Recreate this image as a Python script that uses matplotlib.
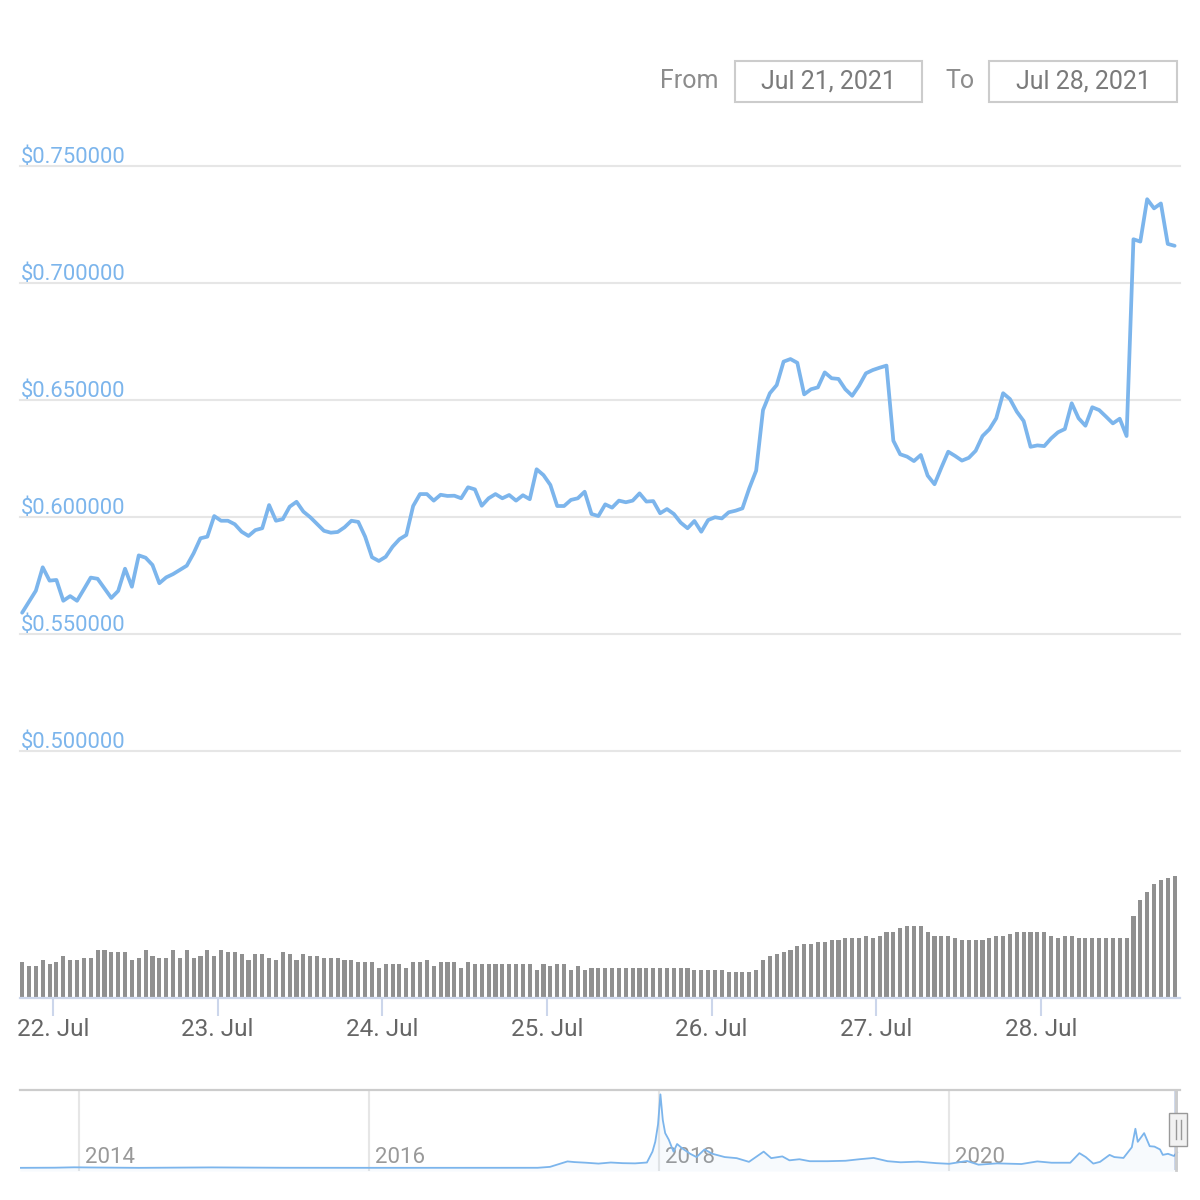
import matplotlib
matplotlib.use("Agg")
import matplotlib.pyplot as plt
import matplotlib.dates as mdates
from matplotlib.patches import Rectangle
from matplotlib.lines import Line2D
import numpy as np
import pandas as pd

#%% data (hourly, from Jul 21 2021 19:30)

price = [
    0.5591, 0.5638, 0.5685, 0.5785, 0.5728, 0.5731, 0.5642, 0.5662, 0.5642, 0.5691,
    0.5741, 0.5736, 0.5695, 0.5654, 0.5684, 0.5779, 0.5702, 0.5836, 0.5826, 0.5795,
    0.5717, 0.5742, 0.5756, 0.5774, 0.5792, 0.5845, 0.5909, 0.5916, 0.6004, 0.5984,
    0.5984, 0.5969, 0.5937, 0.5919, 0.5944, 0.5952, 0.6051, 0.5984, 0.5991, 0.6044,
    0.6065, 0.6023, 0.5999, 0.5970, 0.5941, 0.5933, 0.5936, 0.5956, 0.5984, 0.5979,
    0.5916, 0.5828, 0.5812, 0.5830, 0.5873, 0.5905, 0.5923, 0.6047, 0.6098, 0.6098,
    0.6070, 0.6095, 0.6090, 0.6091, 0.6080, 0.6127, 0.6118, 0.6048, 0.6080, 0.6098,
    0.6080, 0.6094, 0.6070, 0.6093, 0.6076, 0.6204, 0.6179, 0.6137, 0.6047, 0.6047,
    0.6073, 0.6080, 0.6108, 0.6013, 0.6004, 0.6054, 0.6040, 0.6070, 0.6063, 0.6070,
    0.6101, 0.6066, 0.6068, 0.6016, 0.6034, 0.6013, 0.5976, 0.5952, 0.5983, 0.5937,
    0.5987, 0.5999, 0.5994, 0.6020, 0.6027, 0.6037, 0.6123, 0.6198, 0.6457, 0.6529,
    0.6564, 0.6664, 0.6675, 0.6659, 0.6524, 0.6546, 0.6554, 0.6618, 0.6593, 0.6590,
    0.6546, 0.6518, 0.6561, 0.6614, 0.6628, 0.6638, 0.6647, 0.6326, 0.6268, 0.6258,
    0.6239, 0.6265, 0.6177, 0.6140, 0.6211, 0.6279, 0.6261, 0.6241, 0.6253, 0.6283,
    0.6346, 0.6375, 0.6422, 0.6529, 0.6504, 0.6450, 0.6410, 0.6300, 0.6306, 0.6303,
    0.6336, 0.6362, 0.6376, 0.6486, 0.6422, 0.6390, 0.6469, 0.6457, 0.6429, 0.6400,
    0.6420, 0.6346, 0.7187, 0.7177, 0.7358, 0.7319, 0.7340, 0.7167, 0.7159,
]

# volume, relative units
volume = [
    36, 32, 32, 38, 34, 36, 42, 38, 38, 40, 40, 48, 48, 46, 46, 46, 38, 40, 48, 42,
    40, 40, 48, 40, 48, 40, 42, 48, 42, 48, 46, 46, 44, 38, 44, 44, 40, 38, 46, 44,
    38, 44, 42, 42, 40, 40, 40, 38, 38, 36, 36, 36, 30, 34, 34, 34, 30, 36, 36, 38,
    32, 36, 36, 36, 30, 36, 34, 34, 34, 34, 34, 34, 34, 34, 34, 28, 34, 32, 34, 34,
    28, 32, 28, 30, 30, 30, 30, 30, 30, 30, 30, 30, 30, 30, 30, 30, 30, 30, 28, 28,
    28, 28, 28, 26, 26, 26, 26, 28, 38, 42, 44, 46, 48, 52, 54, 54, 56, 56, 58, 58,
    60, 60, 60, 62, 60, 62, 66, 66, 70, 72, 72, 72, 66, 62, 62, 62, 60, 58, 58, 58,
    58, 60, 62, 62, 64, 66, 66, 66, 66, 66, 62, 60, 62, 62, 60, 60, 60, 60, 60, 60,
    60, 60, 82, 98, 106, 114, 118, 120, 122,
]

y_levels = [0.50, 0.55, 0.60, 0.65, 0.70, 0.75]

# navigator: full history
nav_dates = [
    '2013-08-05', '2013-11-01', '2013-12-20', '2014-02-01', '2014-06-01', '2014-12-01',
    '2015-06-01', '2016-01-01', '2016-06-01', '2016-12-01', '2017-03-01', '2017-04-01',
    '2017-05-15', '2017-06-01', '2017-07-01', '2017-08-01', '2017-09-01', '2017-10-01',
    '2017-11-01', '2017-12-01', '2017-12-15', '2017-12-22', '2017-12-29', '2018-01-04',
    '2018-01-10', '2018-01-16', '2018-01-25', '2018-02-06', '2018-02-15', '2018-02-28',
    '2018-03-20', '2018-04-05', '2018-04-25', '2018-05-15', '2018-06-15', '2018-07-15',
    '2018-08-15', '2018-09-21', '2018-10-10', '2018-11-07', '2018-11-25', '2018-12-20',
    '2019-01-15', '2019-03-01', '2019-04-15', '2019-05-20', '2019-06-25', '2019-07-30',
    '2019-09-01', '2019-10-15', '2019-11-30', '2020-01-01', '2020-02-15', '2020-03-15',
    '2020-05-01', '2020-07-01', '2020-08-10', '2020-09-15', '2020-11-01', '2020-11-24',
    '2020-12-10', '2020-12-29', '2021-01-15', '2021-02-08', '2021-02-20', '2021-03-15',
    '2021-04-05', '2021-04-14', '2021-04-20', '2021-05-06', '2021-05-20', '2021-06-01',
    '2021-06-15', '2021-06-22', '2021-07-05', '2021-07-20', '2021-07-28',
]
nav_price = [
    0.005, 0.012, 0.030, 0.022, 0.005, 0.025,
    0.009, 0.006, 0.006, 0.007, 0.008, 0.05,
    0.30, 0.27, 0.24, 0.20, 0.25, 0.22,
    0.21, 0.25, 0.75, 1.20, 2.00, 3.38,
    2.20, 1.60, 1.30, 0.75, 1.10, 0.90,
    0.65, 0.50, 0.85, 0.65, 0.50, 0.45,
    0.28, 0.75, 0.45, 0.53, 0.35, 0.40,
    0.31, 0.31, 0.33, 0.40, 0.46, 0.31,
    0.26, 0.29, 0.22, 0.19, 0.32, 0.15,
    0.21, 0.18, 0.30, 0.24, 0.24, 0.68,
    0.50, 0.20, 0.28, 0.60, 0.50, 0.46,
    0.95, 1.80, 1.20, 1.60, 1.00, 0.98,
    0.85, 0.60, 0.65, 0.55, 0.72,
]
nav_years = [2014, 2016, 2018, 2020]

#%% figure

W, H = 1200, 1200
plt.rcParams['font.family'] = ['Roboto', 'DejaVu Sans']

LINE = '#7cb5ec'
GRID = '#e6e6e6'


def box(x0, y0, x1, y1):
    # pixel box (top-left origin) -> figure rect
    return [x0 / W, 1 - y1 / H, (x1 - x0) / W, (y1 - y0) / H]


def fx(x):
    return x / W


def fy(y):
    return 1 - y / H


fig = plt.figure(figsize=(12, 12), dpi=100)

times = pd.date_range('2021-07-21 19:30', periods=len(price), freq='h')
day0 = pd.Timestamp('2021-07-22')
px_per_h = 6.86
x_left = day0 + pd.Timedelta(hours=(20 - 53) / px_per_h)
x_right = day0 + pd.Timedelta(hours=(1180 - 53) / px_per_h)

# price pane
ax_p = fig.add_axes(box(20, 166, 1180, 751))
ax_p.set_xlim(x_left, x_right)
ax_p.set_ylim(y_levels[0], y_levels[-1])
for v in y_levels:
    ax_p.axhline(v, color=GRID, lw=1.5, clip_on=False, zorder=0)
    ax_p.annotate('$%.6f' % v, xy=(0, v), xycoords=('axes fraction', 'data'),
                  xytext=(0.5, 2.2), textcoords='offset points',
                  ha='left', va='baseline', fontsize=15.8, color=LINE)
ax_p.plot(times, price, color=LINE, lw=2.7, solid_joinstyle='round',
          solid_capstyle='round', clip_on=False, zorder=3)
ax_p.axis('off')

# volume pane
ax_v = fig.add_axes(box(20, 870, 1180, 998))
ax_v.set_xlim(x_left, x_right)
ax_v.set_ylim(0, max(volume) * 1.05)
ax_v.bar(times, volume, width=0.6 / 24, color='#909090', zorder=2)
for s in ['top', 'left', 'right']:
    ax_v.spines[s].set_visible(False)
ax_v.spines['bottom'].set_color('#ccd6eb')
ax_v.spines['bottom'].set_linewidth(1.6)
ax_v.set_yticks([])
ax_v.xaxis.set_major_locator(mdates.DayLocator())
ax_v.xaxis.set_major_formatter(mdates.DateFormatter('%d. %b'))
ax_v.tick_params(axis='x', length=13, width=1.5, color='#ccd6eb',
                 labelcolor='#666666', labelsize=17.5, pad=1.5)

# navigator
ax_n = fig.add_axes(box(20, 1090, 1180, 1171))
nd = pd.to_datetime(nav_dates)
ref = pd.Timestamp('2014-01-01')
d_per_px = 2.518
ax_n.set_xlim(ref + pd.Timedelta(days=(20 - 79) * d_per_px),
              ref + pd.Timedelta(days=(1180 - 79) * d_per_px))
ax_n.set_ylim(-0.14, 3.58)
for yr in nav_years:
    d = pd.Timestamp('%d-01-01' % yr)
    ax_n.axvline(d, color=GRID, lw=1.5, zorder=0)
    ax_n.text(d + pd.Timedelta(days=6 * d_per_px), 0.5, str(yr),
              fontsize=16, color='#999999', ha='left', va='center', zorder=1)
ax_n.fill_between(nd, nav_price, -0.14, color=LINE, alpha=0.06, lw=0, zorder=2)
ax_n.plot(nd, nav_price, color=LINE, lw=1.3, zorder=3)
ax_n.axis('off')

# navigator outline, selected zone and handle
fig.add_artist(Line2D([fx(20), fx(1180)], [fy(1090), fy(1090)],
                      color='#cccccc', lw=1.6, transform=fig.transFigure))
fig.add_artist(Rectangle((fx(1174), fy(1170)), fx(4), 80 / H,
                         facecolor=(0.4, 0.52, 0.76, 0.3), edgecolor='none',
                         transform=fig.transFigure))
fig.add_artist(Line2D([fx(1176), fx(1176)], [fy(1090), fy(1170)],
                      color='#cccccc', lw=2, transform=fig.transFigure))
fig.add_artist(Rectangle((fx(1169), fy(1146)), fx(18), 33 / H,
                         facecolor='#f2f2f2', edgecolor='#999999', lw=1,
                         transform=fig.transFigure, zorder=5))
for xx in [1175.5, 1180.5]:
    fig.add_artist(Line2D([fx(xx), fx(xx)], [fy(1120), fy(1139)],
                          color='#999999', lw=1, transform=fig.transFigure,
                          zorder=6))

# range selector inputs
fig.text(fx(718), fy(81), 'From', ha='right', va='center', fontsize=18,
         color='#8c8c8c')
fig.text(fx(975), fy(81), 'To', ha='right', va='center', fontsize=18,
         color='#8c8c8c')
for (x0, x1), label in [((735, 922), 'Jul 21, 2021'), ((989, 1177), 'Jul 28, 2021')]:
    fig.add_artist(Rectangle((fx(x0), fy(102)), fx(x1 - x0), 41 / H,
                             facecolor='none', edgecolor='#cccccc', lw=1.5,
                             transform=fig.transFigure))
    fig.text(fx((x0 + x1) / 2), fy(81), label, ha='center', va='center',
             fontsize=18, color='#7a7a7a')

fig.savefig('out.png', dpi=100, facecolor='white')
